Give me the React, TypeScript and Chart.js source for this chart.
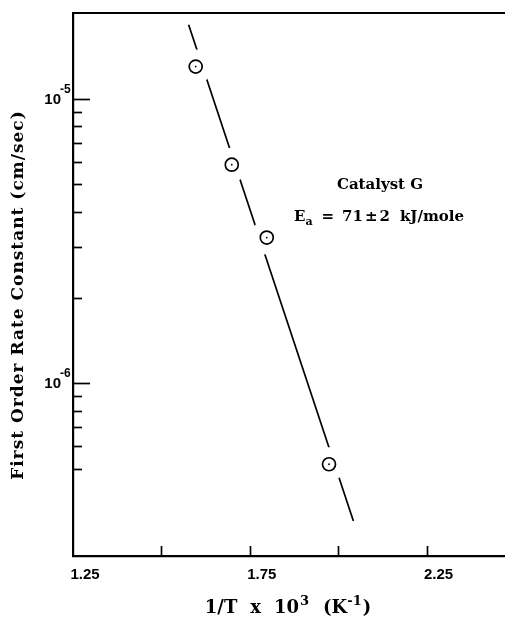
import React, { useEffect, useRef } from "react";
import { Chart, registerables } from "chart.js";

Chart.register(...registerables);

// ---- data ----
const pointX = [1.597, 1.699, 1.798, 1.974];
const pointY = [1.296e-5, 5.86e-6, 3.25e-6, 5.19e-7];
const fitX = [1.577, 2.043];
const fitY = [1.82e-5, 3.28e-7];
const xRange = [1.25, 2.5];
const yRange = [2.47e-7, 2e-5];
const xTickValues = [1.5, 1.75, 2.0, 2.25, 2.5];
const xLabelValues = [1.25, 1.75, 2.25];
const xLabelTexts = ["1.25", "1.75", "2.25"];
const yMajorValues = [1e-6, 1e-5];
const yMajorExponents = ["-6", "-5"];
const yMinorValues = [5e-7, 6e-7, 7e-7, 8e-7, 9e-7, 2e-6, 3e-6, 4e-6, 5e-6, 6e-6, 7e-6, 8e-6, 9e-6];
const yTitle = "First Order Rate Constant (cm/sec)";
const annotationTitle = "Catalyst G";

const SERIF = '"DejaVu Serif"';
const SANS = '"Liberation Sans"';

type Run = { text: string; font: string; dy: number; gap: number };

function drawRuns(ctx: CanvasRenderingContext2D, runs: Run[], cx: number, baseline: number) {
  let total = 0;
  const widths = runs.map((r) => {
    ctx.font = r.font;
    const w = ctx.measureText(r.text).width;
    total += w + r.gap;
    return w;
  });
  let x = cx - total / 2;
  ctx.textAlign = "left";
  ctx.textBaseline = "alphabetic";
  runs.forEach((r, i) => {
    x += r.gap;
    ctx.font = r.font;
    ctx.fillText(r.text, x, baseline + r.dy);
    x += widths[i];
  });
}

const decorPlugin = {
  id: "decor",
  afterDraw(chart: any) {
    const { ctx, chartArea, scales } = chart;
    const xs = scales.x;
    const ys = scales.y;
    const { left, top, right, bottom } = chartArea;
    ctx.save();
    ctx.strokeStyle = "#000";
    ctx.fillStyle = "#000";
    ctx.lineCap = "butt";

    // top frame line
    ctx.lineWidth = 2.2;
    ctx.beginPath();
    ctx.moveTo(left - 1, top);
    ctx.lineTo(right, top);
    ctx.stroke();

    // y ticks (inward)
    ctx.lineWidth = 1.7;
    yMajorValues.forEach((v) => {
      const y = Math.round(ys.getPixelForValue(v)) + 0.5;
      ctx.beginPath();
      ctx.moveTo(left, y);
      ctx.lineTo(left + 17, y);
      ctx.stroke();
    });
    yMinorValues.forEach((v) => {
      const y = Math.round(ys.getPixelForValue(v)) + 0.5;
      ctx.beginPath();
      ctx.moveTo(left, y);
      ctx.lineTo(left + 9, y);
      ctx.stroke();
    });

    // x ticks (inward)
    xTickValues.forEach((v) => {
      const x = Math.round(xs.getPixelForValue(v)) + 0.5;
      ctx.beginPath();
      ctx.moveTo(x, bottom);
      ctx.lineTo(x, bottom - 10);
      ctx.stroke();
    });

    // x labels
    ctx.font = `bold 15px ${SANS}`;
    ctx.textAlign = "center";
    ctx.textBaseline = "alphabetic";
    xLabelValues.forEach((v, i) => {
      const x = xs.getPixelForValue(v);
      ctx.fillText(xLabelTexts[i], x + 12, bottom + 23);
    });

    // y labels 10^n
    yMajorValues.forEach((v, i) => {
      const y = ys.getPixelForValue(v);
      ctx.font = `bold 15px ${SANS}`;
      ctx.textAlign = "right";
      ctx.fillText("10", 61, y + 5);
      ctx.font = `bold 12px ${SANS}`;
      ctx.textAlign = "left";
      ctx.fillText(yMajorExponents[i], 60, y - 6);
    });

    // y title
    ctx.save();
    ctx.translate(19, 295);
    ctx.rotate(-Math.PI / 2);
    ctx.font = `bold 17px ${SERIF}`;
    (ctx as any).letterSpacing = "1px";
    ctx.textAlign = "center";
    ctx.textBaseline = "middle";
    ctx.fillText(yTitle, 0, 0);
    ctx.restore();

    // x title: 1/T x 10^3 (K^-1)
    const big = `bold 18px ${SERIF}`;
    const sup = `bold 13px ${SERIF}`;
    drawRuns(
      ctx,
      [
        { text: "1/T", font: big, dy: 0, gap: 0 },
        { text: "x", font: big, dy: 0, gap: 13 },
        { text: "10", font: big, dy: 0, gap: 13 },
        { text: "3", font: sup, dy: -8, gap: 1 },
        { text: "(K", font: big, dy: 0, gap: 14 },
        { text: "-1", font: sup, dy: -8, gap: 0 },
        { text: ")", font: big, dy: 0, gap: 1 },
      ],
      288,
      613
    );

    // annotation
    ctx.font = `bold 15px ${SERIF}`;
    ctx.textAlign = "center";
    ctx.textBaseline = "alphabetic";
    ctx.fillText(annotationTitle, 380, 189);
    const af = `bold 15px ${SERIF}`;
    const asub = `bold 11px ${SERIF}`;
    drawRuns(
      ctx,
      [
        { text: "E", font: af, dy: 0, gap: 0 },
        { text: "a", font: asub, dy: 4, gap: 0 },
        { text: "=", font: af, dy: 0, gap: 9 },
        { text: "71", font: af, dy: 0, gap: 8 },
        { text: "±", font: af, dy: 0, gap: 2 },
        { text: "2", font: af, dy: 0, gap: 2 },
        { text: "kJ/mole", font: af, dy: 0, gap: 10 },
      ],
      379,
      221
    );

    ctx.restore();
  },
};

export default function App() {
  const ref = useRef<HTMLCanvasElement | null>(null);
  useEffect(() => {
    if (!ref.current) return;
    const pts = pointX.map((x, i) => ({ x, y: pointY[i] }));
    const fit = fitX.map((x, i) => ({ x, y: fitY[i] }));
    const chart = new Chart(ref.current, {
      type: "scatter",
      data: {
        datasets: [
          {
            label: "fit",
            data: fit,
            showLine: true,
            borderColor: "#000",
            borderWidth: 1.7,
            pointRadius: 0,
            order: 4,
          },
          {
            label: "mask",
            data: pts,
            pointRadius: 17,
            pointBackgroundColor: "#fff",
            pointBorderColor: "#fff",
            pointBorderWidth: 0,
            order: 3,
          },
          {
            label: "points",
            data: pts,
            pointRadius: 6.5,
            pointBackgroundColor: "#fff",
            pointBorderColor: "#000",
            pointBorderWidth: 1.7,
            order: 2,
          },
          {
            label: "centers",
            data: pts,
            pointRadius: 0.9,
            pointBackgroundColor: "#000",
            pointBorderColor: "#000",
            pointBorderWidth: 0,
            order: 1,
          },
        ],
      } as any,
      options: {
        animation: false,
        responsive: false,
        devicePixelRatio: 1,
        events: [],
        layout: { autoPadding: false, padding: { left: 73, top: 13, right: 15, bottom: 65 } },
        plugins: { legend: { display: false }, tooltip: { enabled: false } },
        scales: {
          x: {
            type: "linear",
            min: xRange[0],
            max: xRange[1],
            grid: { display: false, drawTicks: false },
            ticks: { display: false },
            border: { display: true, color: "#000", width: 2.2 },
          },
          y: {
            type: "logarithmic",
            min: yRange[0],
            max: yRange[1],
            grid: { display: false, drawTicks: false },
            ticks: { display: false },
            border: { display: true, color: "#000", width: 2.2 },
          },
        },
      } as any,
      plugins: [decorPlugin],
    });
    return () => chart.destroy();
  }, []);
  return (
    <div
      style={{
        position: "fixed",
        left: 0,
        top: 0,
        width: 505,
        height: 621,
        overflow: "hidden",
        background: "#fff",
      }}
    >
      <canvas ref={ref} width={530} height={621} style={{ display: "block" }} />
    </div>
  );
}
